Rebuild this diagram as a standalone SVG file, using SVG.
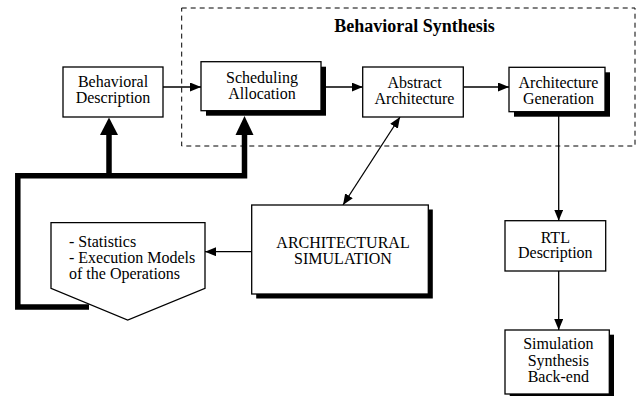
<svg xmlns="http://www.w3.org/2000/svg" width="640" height="396" viewBox="0 0 640 396">
<defs>
<style>
text{font-family:"Liberation Serif","Times New Roman",serif;font-size:16px;fill:#000}
.c{text-anchor:middle}
.box{fill:#fff;stroke:#000;stroke-width:1.3}
.sh{fill:#000}
.ln{fill:none;stroke:#000;stroke-width:1.3}
.thick{fill:none;stroke:#000;stroke-width:5.5;stroke-linejoin:miter}
</style>
<marker id="ah" markerUnits="userSpaceOnUse" markerWidth="11" markerHeight="9" refX="11" refY="4.5" orient="auto-start-reverse">
<path d="M0,0 L11,4.5 L0,9 z" fill="#000"/>
</marker>
</defs>
<rect width="640" height="396" fill="#fff"/>

<g id="behavioral-synthesis">
<rect x="181.7" y="8" width="453.3" height="138" fill="none" stroke="#000" stroke-width="1" stroke-dasharray="5,4"/>
<text x="414.5" y="32" class="c" style="font-weight:bold;font-size:18px">Behavioral Synthesis</text>
</g>

<g id="connectors">
<line class="ln" x1="163" y1="87" x2="201" y2="87" marker-end="url(#ah)"/>
<line class="ln" x1="326" y1="87" x2="362.7" y2="87" marker-end="url(#ah)"/>
<line class="ln" x1="463.3" y1="87" x2="509" y2="87" marker-end="url(#ah)"/>
<line class="ln" x1="400" y1="117" x2="343" y2="205" marker-start="url(#ah)" marker-end="url(#ah)"/>
<line class="ln" x1="251.7" y1="251.7" x2="205" y2="251.7" marker-end="url(#ah)"/>
<line class="ln" x1="558.7" y1="116" x2="558.7" y2="220.7" marker-end="url(#ah)"/>
<line class="ln" x1="558.7" y1="271" x2="558.7" y2="330" marker-end="url(#ah)"/>
<path class="thick" d="M89,307 H17.8 V175.8 H244.5 V134"/>
<line class="thick" x1="109" y1="175.8" x2="109" y2="134"/>
<polygon points="109,117.5 100,135 118,135" fill="#000"/>
<polygon points="244.5,116 235.5,135 253.5,135" fill="#000"/>
</g>

<g id="behavioral-description">
<rect class="box" x="63" y="67" width="100" height="50"/>
<text x="113" y="86.5" class="c">Behavioral</text>
<text x="113" y="102.5" class="c">Description</text>
</g>

<g id="scheduling-allocation">
<rect class="sh" x="206" y="66.7" width="120" height="49"/>
<rect class="box" x="201" y="61.7" width="120" height="49"/>
<text x="262" y="83" class="c">Scheduling</text>
<text x="262" y="99" class="c">Allocation</text>
</g>

<g id="abstract-architecture">
<rect class="box" x="362.7" y="67" width="100.6" height="50"/>
<text x="414.5" y="88.3" class="c">Abstract</text>
<text x="414.5" y="104.3" class="c">Architecture</text>
</g>

<g id="architecture-generation">
<rect class="sh" x="514" y="72.3" width="96" height="44.4"/>
<rect class="box" x="509" y="67.3" width="96" height="44.4"/>
<text x="558.5" y="88.3" class="c">Architecture</text>
<text x="558.5" y="104.3" class="c">Generation</text>
</g>

<g id="architectural-simulation">
<rect class="sh" x="256.2" y="209.5" width="176.6" height="89"/>
<rect class="box" x="251.7" y="205" width="176.6" height="89"/>
<text x="343" y="248" class="c">ARCHITECTURAL</text>
<text x="343" y="264" class="c">SIMULATION</text>
</g>

<g id="statistics">
<polygon class="box" points="51,222.7 205,222.7 205,288.3 127.7,320 51,288.3"/>
<text x="69" y="246.7">- Statistics</text>
<text x="69" y="263.3">- Execution Models</text>
<text x="69" y="279.3">of the Operations</text>
</g>

<g id="rtl-description">
<rect class="box" x="505" y="220.7" width="100.7" height="50.3"/>
<text x="555.3" y="242.7" class="c">RTL</text>
<text x="555.3" y="258.3" class="c">Description</text>
</g>

<g id="simulation-synthesis-backend">
<rect class="sh" x="509.7" y="334.7" width="104.3" height="64"/>
<rect class="box" x="505" y="330" width="104.3" height="64"/>
<text x="558.3" y="349.3" class="c">Simulation</text>
<text x="558.3" y="365.5" class="c">Synthesis</text>
<text x="558.3" y="382.3" class="c">Back-end</text>
</g>
</svg>
